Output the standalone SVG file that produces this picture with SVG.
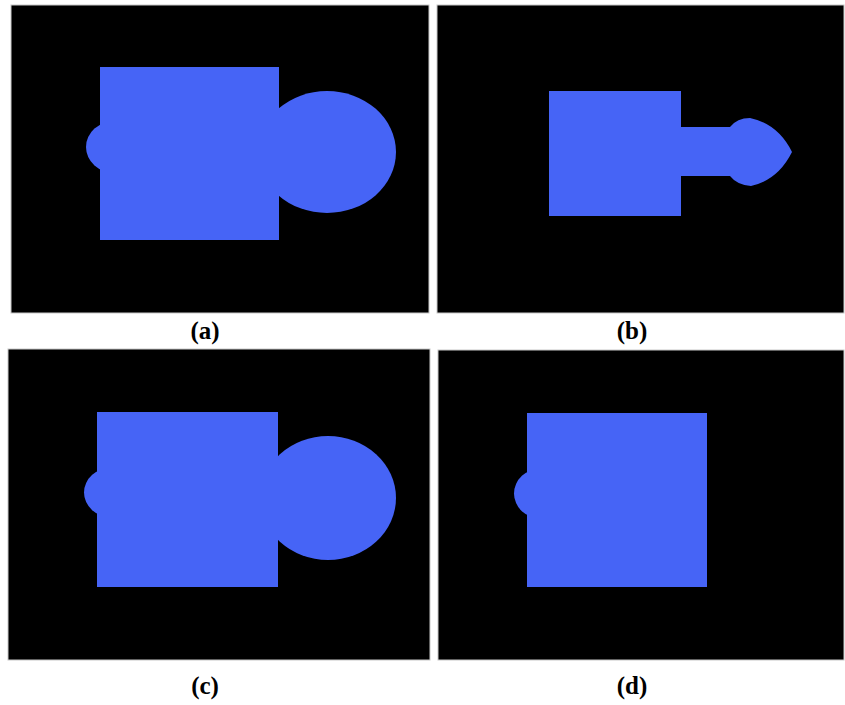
<svg xmlns="http://www.w3.org/2000/svg" width="845" height="705" viewBox="0 0 845 705">
<style>
.panel{fill:#000;stroke:#c8c8c8;stroke-width:1}
.shape{fill:#4664F6}
.lbl{font-family:"Liberation Serif","Times New Roman",serif;font-weight:bold;font-size:25px;fill:#000;text-anchor:middle}
</style>
<rect width="845" height="705" fill="#fff"/>
<g id="panel-a">
<rect class="panel" x="11" y="5" width="418" height="308"/>
<ellipse class="shape" cx="115" cy="147" rx="29" ry="26"/>
<ellipse class="shape" cx="327" cy="152" rx="69" ry="61"/>
<rect class="shape" x="100" y="67" width="179" height="173"/>
<text class="lbl" x="205" y="339">(a)</text>
</g>
<g id="panel-b">
<rect class="panel" x="437" y="5" width="407" height="308"/>
<rect class="shape" x="549" y="91" width="132" height="125"/>
<path class="shape" d="M680,127 L730,127 Q737,118 750,118 Q778,124 792,152 Q778,180 751,186 Q737,185 730,176 L680,176 Z"/>
<text class="lbl" x="632" y="339">(b)</text>
</g>
<g id="panel-c">
<rect class="panel" x="8" y="349" width="422" height="311"/>
<ellipse class="shape" cx="112" cy="492.5" rx="28" ry="25"/>
<ellipse class="shape" cx="328" cy="498" rx="68" ry="62"/>
<rect class="shape" x="97" y="412" width="181" height="175"/>
<text class="lbl" x="205" y="694">(c)</text>
</g>
<g id="panel-d">
<rect class="panel" x="438" y="350" width="406" height="310"/>
<ellipse class="shape" cx="541" cy="493.5" rx="27" ry="25"/>
<rect class="shape" x="527" y="413" width="180" height="174"/>
<text class="lbl" x="632" y="694">(d)</text>
</g>
<g id="connectors"/>
</svg>
